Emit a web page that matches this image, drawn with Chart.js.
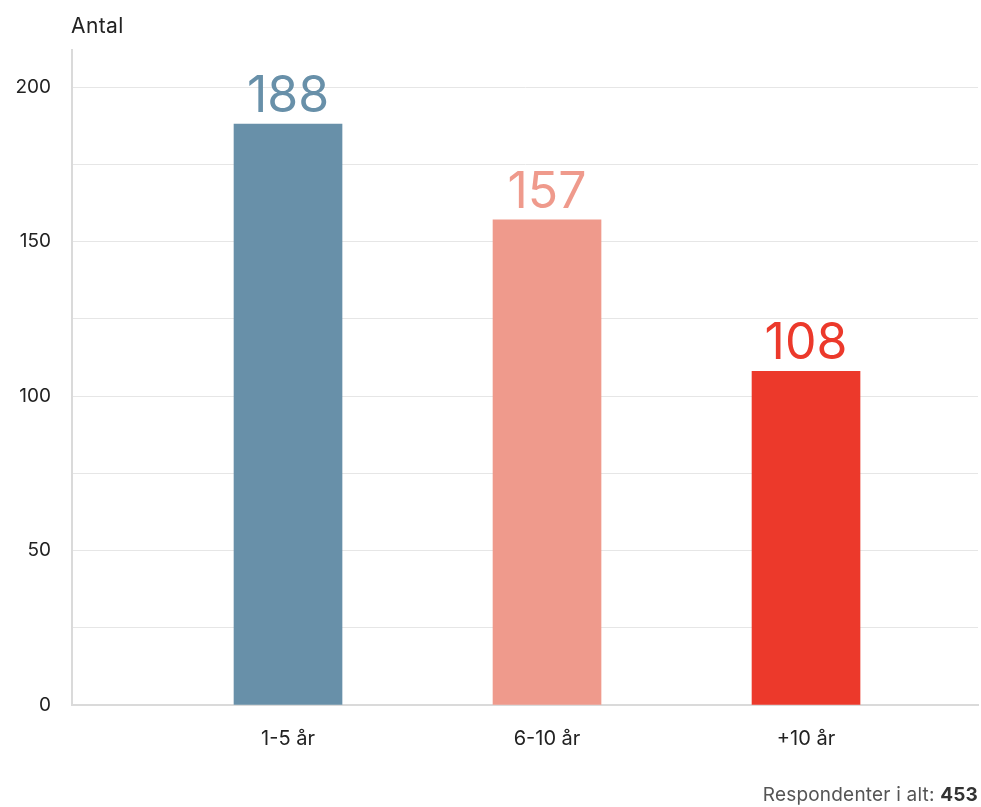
<!DOCTYPE html>
<html lang="da">
<head>
<meta charset="utf-8">
<title>Antal respondenter</title>
<script src="https://cdn.jsdelivr.net/npm/chart.js@4"></script>
<style>
  html, body { margin: 0; padding: 0; background: #fff; }
  #wrap { position: relative; width: 981px; height: 807px; font-family: Inter, "Open Sans", sans-serif; }
  #chart { position: absolute; left: 0; top: 0; }
  #yTitle { position: absolute; left: 71px; top: 13px; font-size: 21px; color: #222; letter-spacing: 0.4px; }
  #footer { position: absolute; right: 3px; top: 783px; font-size: 19px; color: #555; letter-spacing: 0.2px; }
  #footer b { color: #333; font-weight: 700; }
</style>
</head>
<body>
<div id="wrap">
  <canvas id="chart" width="981" height="807"></canvas>
  <div id="yTitle">Antal</div>
  <div id="footer">Respondenter i alt: <b id="total"></b></div>
</div>
<script>
// data
const categories = ['1-5 år', '6-10 år', '+10 år'];
const counts = [188, 157, 108];
const barColors = ['#6890a9', '#ef9a8c', '#ec392b'];
const yTickValues = [0, 25, 50, 75, 100, 125, 150, 175, 200];
const yLabelStep = 50;
const totalRespondents = 453;

document.getElementById('total').textContent = totalRespondents;

Chart.defaults.font.family = 'Inter, "Open Sans", sans-serif';

// draws the count above each bar in the bar's colour
const valueLabels = {
  id: 'valueLabels',
  afterDatasetsDraw(chart) {
    const ctx = chart.ctx;
    const meta = chart.getDatasetMeta(0);
    meta.data.forEach((bar, i) => {
      ctx.save();
      ctx.fillStyle = barColors[i];
      ctx.font = '50px Inter, "Open Sans", sans-serif';
      ctx.textAlign = 'center';
      ctx.textBaseline = 'alphabetic';
      ctx.fillText(String(counts[i]), bar.x, bar.y - 12);
      ctx.restore();
    });
  }
};

new Chart(document.getElementById('chart'), {
  type: 'bar',
  data: {
    datasets: [{
      data: counts.map((v, i) => ({ x: i, y: v })),
      backgroundColor: barColors,
      borderWidth: 0,
      barThickness: 108
    }]
  },
  options: {
    responsive: false,
    animation: false,
    devicePixelRatio: 1,
    layout: { padding: { top: 50, right: 3, left: 0, bottom: 0 } },
    plugins: {
      legend: { display: false },
      tooltip: { enabled: false }
    },
    scales: {
      x: {
        type: 'linear',
        offset: false,
        min: -0.834,
        max: 2.664,
        afterBuildTicks: (scale) => {
          scale.ticks = categories.map((c, i) => ({ value: i }));
        },
        afterFit: (scale) => { scale.height = 102; },
        grid: { display: false, drawTicks: false, offset: false },
        border: { color: '#dadada', width: 2 },
        ticks: {
          autoSkip: false,
          maxRotation: 0,
          padding: 22,
          color: '#222',
          font: { size: 20 },
          callback: (v) => categories[v]
        }
      },
      y: {
        min: 0,
        max: 212,
        afterBuildTicks: (scale) => {
          scale.ticks = yTickValues.map(v => ({ value: v }));
        },
        afterFit: (scale) => { scale.width = 72; },
        grid: { color: '#e6e6e6', lineWidth: 1, drawTicks: false },
        border: { color: '#dadada', width: 2 },
        ticks: {
          padding: 21,
          color: '#222',
          font: { size: 19 },
          callback: (v) => (v % yLabelStep === 0 ? v : '')
        }
      }
    }
  },
  plugins: [valueLabels]
});
</script>
</body>
</html>
